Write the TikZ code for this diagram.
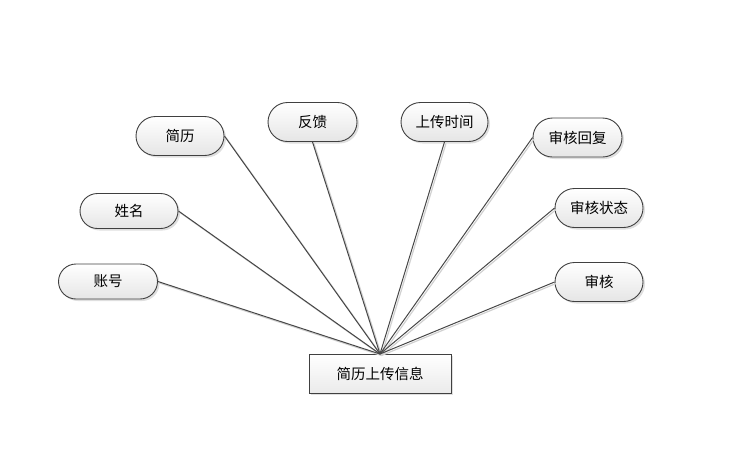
\documentclass[tikz,border=0pt]{standalone}
\usepackage{fontspec}
\newfontfamily\cjk{Noto Sans CJK SC}
\usetikzlibrary{shapes.misc,shadows}
\begin{document}
\begin{tikzpicture}[x=1pt,y=-1pt,
  attr/.style={rounded rectangle, draw=black!75, line width=0.9pt,
    minimum height=39pt, inner xsep=0pt,
    top color=white, bottom color=black!10,
    drop shadow={shadow xshift=2pt, shadow yshift=-2pt, opacity=0.25},
    font=\cjk\fontsize{14.5}{17}\selectfont},
  ent/.style={rectangle, draw=black!75, line width=0.9pt,
    minimum width=142pt, minimum height=39pt,
    top color=white, bottom color=black!8,
    drop shadow={shadow xshift=2pt, shadow yshift=-2pt, opacity=0.25},
    font=\cjk\fontsize{14.5}{17}\selectfont},
  link/.style={draw=black!72, line width=1pt},
  linkshadow/.style={draw=black!18, line width=1.2pt}]
\useasboundingbox (0,0) rectangle (743,451);
\node[ent] (e) at (380,373.5) {简历上传信息};
\coordinate (c) at (380,354);
\node[attr, minimum width=88pt] (jl) at (180,136) {简历};
\node[attr, minimum width=89pt] (fk) at (312.5,122) {反馈};
\node[attr, minimum width=87pt] (sc) at (444.5,122) {上传时间};
\node[attr, minimum width=89pt] (hf) at (577.5,137.5) {审核回复};
\node[attr, minimum width=88pt] (zt) at (599,208) {审核状态};
\node[attr, minimum width=88pt] (sh) at (599,282) {审核};
\node[attr, minimum width=98pt, minimum height=35pt] (xm) at (129,211) {姓名};
\node[attr, minimum width=99pt, minimum height=35pt] (zh) at (108,281.5) {账号};
\begin{scope}[transform canvas={shift={(1.5pt,-1.5pt)}}]
\foreach \n/\a in {jl/east,fk/south,sc/south,hf/west,zt/west,sh/west,xm/east,zh/east}
  \draw[linkshadow] (\n.\a) -- (c);
\end{scope}
\foreach \n/\a in {jl/east,fk/south,sc/south,hf/west,zt/west,sh/west,xm/east,zh/east}
  \draw[link] (\n.\a) -- (c);
\end{tikzpicture}
\end{document}
